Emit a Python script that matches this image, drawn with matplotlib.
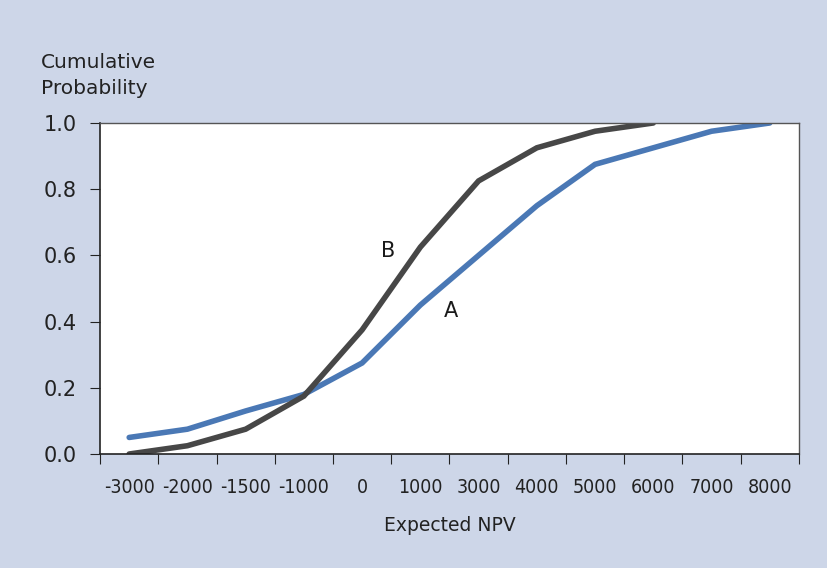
import numpy as np
import matplotlib.pyplot as plt

npv_labels = ['-3000', '-2000', '-1500', '-1000', '0', '1000', '3000',
              '4000', '5000', '6000', '7000', '8000']
prob_a = [0.05, 0.075, 0.13, 0.18, 0.275, 0.45, 0.60, 0.75, 0.875, 0.925, 0.975, 1.0]
prob_b = [0.0, 0.025, 0.075, 0.175, 0.375, 0.625, 0.825, 0.925, 0.975, 1.0]

bg = '#cdd6e8'
fig = plt.figure(figsize=(8.27, 5.68), dpi=100, facecolor=bg)
ax = fig.add_axes([0.121, 0.2007, 0.845, 0.5828])
ax.set_facecolor('white')

x = np.arange(len(npv_labels))
ax.plot(x, prob_a, color='#4a78b5', lw=4, solid_capstyle='round', solid_joinstyle='miter')
ax.plot(x[:len(prob_b)], prob_b, color='#474747', lw=4, solid_capstyle='round', solid_joinstyle='miter')

ax.text(4.45, 0.613, 'B', fontsize=15, ha='center', va='center', color='#1a1a1a')
ax.text(5.53, 0.432, 'A', fontsize=15, ha='center', va='center', color='#1a1a1a')

ax.set_xlim(-0.5, len(npv_labels) - 0.5)
ax.set_ylim(0, 1.0)
ax.set_xticks(np.arange(-0.5, len(npv_labels), 1.0))
ax.set_xticklabels([])
ax.set_xticks(x, minor=True)
ax.set_xticklabels(npv_labels, minor=True, fontstretch='condensed')
ax.tick_params(axis='x', which='major', length=7, direction='out', color='#222222')
ax.tick_params(axis='x', which='minor', length=0, pad=17, labelsize=14, labelcolor='#222222')
ax.set_yticks(np.arange(0, 1.01, 0.2))
ax.set_yticklabels([f'{v:.1f}' for v in np.arange(0, 1.01, 0.2)])
ax.tick_params(axis='y', length=7, direction='out', pad=10, labelsize=15,
               labelcolor='#222222', color='#222222')

for s in ['left', 'bottom']:
    ax.spines[s].set_color('#222222')
    ax.spines[s].set_linewidth(1.2)
for s in ['top', 'right']:
    ax.spines[s].set_color('#555555')
    ax.spines[s].set_linewidth(1.0)

ax.set_xlabel('Expected NPV', fontsize=13.5, color='#222222', labelpad=14)
fig.text(0.05, 0.867, 'Cumulative\nProbability', fontsize=14.5, color='#222222',
         ha='left', va='center', linespacing=1.45)

fig.savefig('out.png', dpi=100, facecolor=bg)
